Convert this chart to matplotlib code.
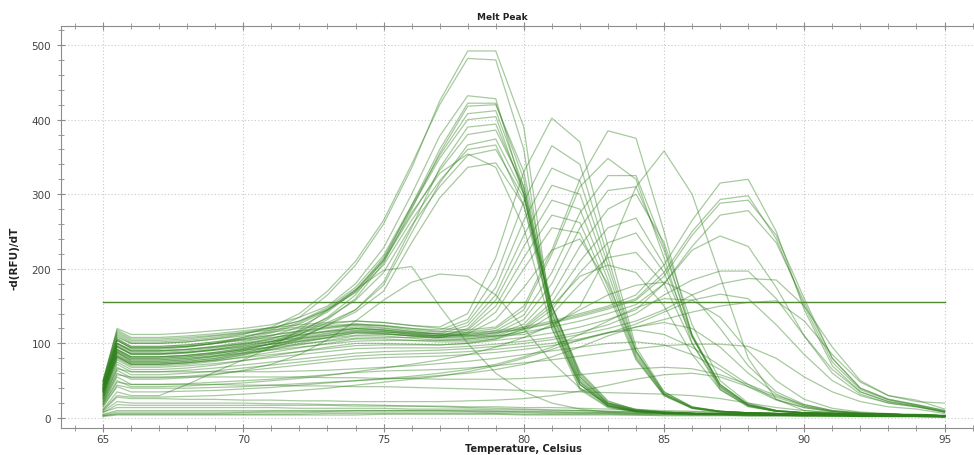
"""Melt peak curves (-d(RFU)/dT vs temperature), redrawn from a qPCR export."""

import matplotlib
matplotlib.use("Agg")
import matplotlib.pyplot as plt
from matplotlib.ticker import MultipleLocator

# Temperature readings (Celsius) shared by every well
temps = [65, 65.5, 66, 67, 68, 69, 70, 71, 72, 73, 74, 75, 76, 77, 78, 79,
         80, 81, 82, 83, 84, 85, 86, 87, 88, 89, 90, 91, 92, 93, 94, 95]

threshold = 155

# Wells peaking near 78.5 C
peak_78 = [
    [40, 100, 92, 92, 95, 100, 108, 118, 135, 165, 205, 260, 335, 425, 492, 492, 390, 130, 40, 15, 8, 6, 5, 5, 4, 4, 4, 3, 3, 3, 3, 2],
    [45, 108, 100, 100, 102, 106, 112, 122, 140, 170, 210, 265, 340, 420, 482, 480, 360, 120, 38, 14, 8, 6, 5, 5, 4, 4, 4, 3, 3, 3, 3, 2],
    [50, 120, 112, 112, 114, 117, 120, 125, 135, 150, 180, 228, 300, 378, 432, 428, 300, 130, 45, 16, 9, 7, 6, 5, 5, 4, 4, 4, 3, 3, 3, 2],
    [38, 92, 82, 82, 84, 88, 94, 102, 115, 135, 165, 212, 285, 360, 422, 422, 320, 140, 50, 18, 9, 7, 6, 5, 5, 4, 4, 4, 3, 3, 3, 2],
    [36, 88, 76, 76, 78, 83, 90, 100, 112, 132, 160, 208, 280, 355, 418, 420, 330, 150, 55, 20, 10, 7, 6, 5, 5, 4, 4, 4, 3, 3, 3, 2],
    [48, 112, 102, 102, 104, 108, 113, 120, 130, 148, 175, 218, 285, 352, 408, 412, 310, 135, 48, 17, 9, 7, 6, 5, 5, 4, 4, 4, 3, 3, 3, 2],
    [42, 100, 90, 90, 92, 96, 102, 110, 122, 142, 170, 215, 282, 348, 400, 404, 300, 125, 45, 16, 9, 7, 6, 5, 5, 4, 4, 3, 3, 3, 3, 2],
    [34, 82, 72, 72, 74, 78, 85, 94, 106, 125, 145, 182, 255, 335, 390, 394, 305, 140, 52, 19, 10, 7, 6, 5, 5, 4, 4, 4, 3, 3, 3, 2],
    [44, 104, 94, 94, 96, 100, 106, 114, 126, 144, 170, 210, 272, 332, 380, 386, 310, 150, 58, 20, 10, 7, 6, 5, 5, 4, 4, 4, 3, 3, 3, 2],
    [37, 90, 80, 80, 82, 86, 92, 100, 112, 128, 145, 178, 248, 315, 366, 374, 300, 145, 55, 19, 10, 7, 6, 5, 5, 4, 4, 4, 3, 3, 3, 2],
    [50, 116, 106, 106, 108, 111, 115, 121, 130, 145, 168, 205, 265, 318, 360, 366, 285, 130, 48, 17, 9, 7, 6, 5, 5, 4, 4, 4, 3, 3, 3, 2],
    [40, 96, 86, 86, 88, 92, 98, 106, 117, 134, 158, 195, 258, 310, 352, 360, 295, 150, 60, 22, 11, 8, 6, 5, 5, 4, 4, 4, 3, 3, 3, 2],
    [45, 106, 96, 96, 98, 102, 108, 116, 128, 146, 172, 212, 275, 328, 354, 336, 255, 120, 45, 16, 9, 7, 6, 5, 5, 4, 4, 4, 3, 3, 3, 2],
    [35, 84, 74, 74, 76, 80, 87, 96, 108, 124, 142, 170, 235, 295, 336, 342, 285, 150, 62, 23, 11, 8, 6, 5, 5, 4, 4, 4, 3, 3, 3, 2],
]

# Wells peaking near 81 C
peak_81 = [
    [50, 118, 108, 108, 110, 113, 117, 121, 125, 128, 130, 128, 124, 122, 140, 215, 330, 402, 370, 230, 95, 35, 15, 9, 7, 6, 5, 5, 4, 4, 3, 3],
    [46, 110, 100, 100, 102, 106, 110, 115, 120, 124, 126, 124, 120, 118, 132, 190, 290, 365, 340, 215, 90, 33, 14, 9, 7, 6, 5, 5, 4, 4, 3, 3],
    [42, 104, 94, 94, 96, 100, 105, 111, 117, 122, 125, 123, 118, 115, 128, 175, 265, 335, 318, 205, 88, 32, 14, 9, 7, 6, 5, 5, 4, 4, 3, 3],
    [40, 98, 88, 88, 90, 94, 100, 107, 114, 120, 124, 121, 116, 113, 124, 165, 245, 312, 300, 195, 85, 32, 14, 9, 7, 6, 5, 5, 4, 4, 3, 3],
    [38, 95, 85, 85, 87, 91, 96, 103, 110, 116, 120, 118, 113, 110, 120, 158, 230, 292, 280, 185, 82, 31, 13, 8, 7, 6, 5, 5, 4, 4, 3, 3],
    [35, 90, 80, 80, 82, 86, 92, 99, 106, 113, 118, 116, 112, 110, 118, 150, 215, 272, 262, 175, 80, 30, 13, 8, 7, 6, 5, 5, 4, 4, 3, 3],
    [32, 86, 76, 76, 78, 82, 88, 95, 103, 110, 116, 114, 110, 108, 115, 142, 200, 255, 248, 168, 78, 30, 13, 8, 7, 6, 5, 5, 4, 4, 3, 3],
    [30, 82, 72, 72, 74, 78, 84, 92, 100, 108, 114, 113, 110, 108, 113, 132, 175, 225, 240, 180, 90, 35, 15, 9, 7, 6, 5, 5, 4, 4, 3, 3],
]

# Wells peaking near 83.5 C (plus the single 85 C well)
peak_83 = [
    [48, 114, 104, 104, 106, 110, 114, 118, 122, 126, 130, 128, 124, 120, 118, 122, 150, 225, 320, 385, 375, 250, 110, 40, 16, 9, 7, 6, 5, 5, 4, 3],
    [44, 106, 96, 96, 98, 102, 106, 111, 116, 121, 126, 124, 120, 116, 115, 120, 145, 220, 310, 348, 320, 215, 100, 38, 15, 9, 7, 6, 5, 5, 4, 3],
    [40, 100, 90, 90, 92, 96, 100, 105, 111, 117, 122, 120, 116, 112, 112, 117, 138, 195, 275, 325, 325, 230, 110, 42, 17, 9, 7, 6, 5, 5, 4, 3],
    [38, 96, 86, 86, 88, 92, 97, 102, 108, 114, 120, 118, 114, 110, 110, 114, 132, 180, 255, 305, 310, 225, 112, 44, 18, 10, 7, 6, 5, 5, 4, 3],
    [36, 92, 82, 82, 84, 88, 93, 99, 105, 111, 117, 116, 112, 108, 108, 112, 126, 165, 230, 280, 300, 235, 125, 50, 20, 10, 7, 6, 5, 5, 4, 3],
    [33, 88, 78, 78, 80, 84, 90, 96, 102, 108, 114, 113, 110, 106, 106, 110, 122, 155, 210, 255, 268, 205, 110, 45, 18, 10, 7, 6, 5, 5, 4, 3],
    [30, 84, 74, 74, 76, 80, 86, 92, 98, 104, 110, 110, 107, 104, 104, 108, 118, 145, 195, 235, 248, 195, 108, 45, 18, 10, 7, 6, 5, 5, 4, 3],
    [28, 80, 70, 70, 72, 76, 82, 88, 94, 100, 106, 106, 104, 102, 102, 106, 115, 138, 180, 215, 222, 180, 100, 42, 17, 9, 7, 6, 5, 5, 4, 3],
    [26, 75, 65, 65, 67, 71, 77, 83, 89, 95, 100, 100, 99, 98, 100, 106, 120, 150, 190, 205, 195, 150, 85, 38, 16, 9, 7, 6, 5, 5, 4, 3],
    [42, 104, 94, 94, 96, 100, 104, 108, 112, 116, 120, 118, 115, 112, 110, 110, 112, 122, 150, 220, 310, 358, 300, 190, 80, 25, 10, 7, 6, 5, 4, 3],
]

# Wells peaking near 87.5 C
peak_87 = [
    [40, 100, 90, 90, 92, 95, 99, 103, 107, 111, 115, 115, 114, 113, 114, 117, 122, 130, 140, 150, 165, 205, 265, 315, 320, 250, 145, 70, 35, 22, 16, 8],
    [38, 96, 86, 86, 88, 91, 95, 99, 103, 107, 111, 112, 111, 110, 112, 115, 120, 128, 138, 148, 160, 195, 250, 293, 298, 240, 150, 75, 38, 24, 17, 9],
    [36, 92, 82, 82, 84, 87, 91, 95, 99, 103, 107, 108, 108, 108, 110, 114, 119, 127, 136, 146, 158, 190, 245, 288, 292, 245, 160, 80, 40, 25, 18, 10],
    [34, 88, 78, 78, 80, 83, 87, 91, 95, 99, 103, 104, 104, 104, 106, 110, 115, 122, 130, 140, 152, 180, 230, 272, 278, 235, 155, 80, 40, 25, 18, 10],
    [30, 82, 72, 72, 74, 77, 81, 85, 89, 93, 97, 98, 98, 98, 100, 104, 108, 114, 122, 132, 145, 180, 225, 244, 230, 175, 110, 60, 32, 20, 15, 8],
    [28, 78, 68, 68, 70, 73, 77, 81, 85, 89, 93, 94, 94, 94, 96, 99, 103, 108, 115, 125, 140, 165, 185, 197, 197, 160, 110, 65, 35, 22, 16, 8],
    [26, 72, 62, 62, 64, 67, 71, 75, 79, 83, 87, 89, 90, 91, 93, 96, 100, 105, 112, 120, 130, 145, 165, 180, 187, 185, 150, 95, 50, 30, 22, 20],
    [24, 68, 58, 58, 60, 63, 67, 71, 75, 79, 83, 85, 86, 87, 89, 92, 96, 100, 106, 114, 122, 132, 142, 150, 155, 157, 130, 85, 48, 30, 24, 12],
    [22, 64, 54, 54, 56, 59, 63, 67, 71, 75, 79, 81, 82, 83, 85, 88, 92, 97, 104, 114, 126, 142, 158, 166, 160, 125, 85, 50, 30, 20, 15, 8],
    [20, 55, 45, 45, 46, 48, 50, 52, 55, 58, 61, 63, 64, 65, 67, 70, 74, 78, 83, 88, 93, 97, 99, 99, 96, 80, 55, 35, 22, 15, 12, 6],
]

# Low / broad wells
broad = [
    [12, 35, 30, 30, 45, 62, 78, 95, 118, 145, 172, 198, 203, 150, 100, 60, 35, 20, 12, 8, 6, 5, 4, 4, 3, 3, 3, 3, 2, 2, 2, 2],
    [22, 60, 52, 52, 54, 58, 64, 72, 85, 105, 130, 158, 182, 193, 190, 165, 120, 75, 40, 20, 12, 8, 6, 5, 4, 4, 3, 3, 3, 2, 2, 2],
    [18, 50, 42, 42, 43, 45, 47, 50, 53, 57, 62, 67, 72, 78, 85, 95, 108, 125, 145, 165, 178, 182, 165, 120, 70, 35, 18, 10, 7, 5, 4, 3],
    [15, 42, 35, 35, 36, 37, 39, 41, 44, 47, 50, 53, 56, 60, 65, 72, 82, 95, 112, 130, 148, 160, 158, 135, 90, 50, 25, 13, 8, 6, 5, 4],
    [20, 58, 55, 55, 55, 55, 55, 55, 55, 54, 54, 53, 53, 52, 52, 52, 53, 55, 58, 62, 66, 68, 66, 58, 45, 30, 18, 10, 7, 5, 4, 3],
    [16, 44, 40, 40, 40, 41, 42, 44, 46, 48, 50, 52, 54, 57, 60, 65, 72, 82, 95, 110, 122, 128, 120, 95, 60, 32, 16, 9, 6, 5, 4, 3],
    [10, 28, 26, 26, 25, 25, 24, 24, 23, 23, 22, 22, 22, 22, 23, 24, 26, 30, 36, 44, 52, 58, 60, 55, 42, 28, 16, 9, 6, 5, 4, 3],
    [11, 30, 28, 28, 29, 30, 32, 34, 37, 40, 44, 48, 52, 56, 62, 70, 80, 92, 105, 115, 118, 112, 95, 70, 45, 25, 14, 8, 6, 5, 4, 3],
    [18, 48, 45, 45, 45, 45, 44, 44, 43, 43, 42, 42, 41, 40, 39, 38, 37, 36, 35, 34, 33, 32, 30, 26, 20, 14, 10, 7, 5, 4, 3, 2],
    [25, 66, 62, 62, 62, 62, 62, 62, 63, 64, 66, 68, 70, 73, 76, 80, 85, 90, 95, 100, 102, 98, 85, 65, 42, 24, 14, 9, 6, 5, 4, 3],
]

# Near-baseline wells
flat = [
    [8, 14, 14, 14, 14, 14, 14, 14, 13, 13, 13, 13, 12, 12, 12, 11, 11, 10, 10, 9, 9, 8, 8, 7, 7, 6, 6, 5, 5, 4, 4, 3],
    [5, 10, 10, 10, 10, 10, 10, 10, 10, 10, 10, 10, 10, 10, 10, 9, 9, 8, 8, 7, 7, 6, 6, 5, 5, 5, 4, 4, 4, 3, 3, 2],
    [4, 8, 8, 8, 8, 8, 8, 9, 9, 9, 10, 10, 10, 10, 9, 9, 8, 8, 7, 7, 6, 6, 5, 5, 5, 4, 4, 4, 3, 3, 3, 2],
    [3, 6, 6, 6, 6, 6, 7, 7, 7, 8, 8, 8, 8, 8, 8, 7, 7, 6, 6, 6, 5, 5, 5, 4, 4, 4, 3, 3, 3, 3, 2, 1],
    [3, 5, 5, 5, 5, 5, 5, 5, 5, 6, 6, 6, 6, 6, 6, 6, 5, 5, 5, 5, 4, 4, 4, 4, 3, 3, 3, 3, 2, 2, 2, 1],
    [2, 4, 4, 4, 4, 4, 4, 4, 4, 4, 4, 5, 5, 5, 5, 5, 4, 4, 4, 4, 4, 3, 3, 3, 3, 3, 2, 2, 2, 2, 2, 1],
    [9, 22, 20, 20, 20, 20, 20, 19, 19, 18, 18, 17, 16, 15, 14, 13, 12, 11, 10, 9, 8, 8, 7, 6, 6, 5, 5, 4, 4, 3, 3, 2],
    [7, 18, 17, 17, 17, 17, 17, 17, 17, 17, 16, 16, 16, 16, 15, 15, 14, 14, 13, 12, 11, 10, 9, 8, 7, 6, 5, 5, 4, 4, 3, 2],
]

wells = peak_78 + peak_81 + peak_83 + peak_87 + broad + flat
for w in wells:
    assert len(w) == len(temps)

fig = plt.figure(figsize=(9.74, 4.56), dpi=100)
ax = fig.add_axes([61 / 974, 1 - 429 / 456, 1 - 61 / 974, 402 / 456])

for w in wells:
    ax.plot(temps, w, color="#2f801c", alpha=0.42, linewidth=0.9)

ax.plot([temps[0], temps[-1]], [threshold, threshold], color="#4f8a30", linewidth=1.0)

ax.set_xlim(63.5, 96.05)
ax.set_ylim(-13.4, 525.5)

ax.xaxis.set_major_locator(MultipleLocator(5))
ax.xaxis.set_minor_locator(MultipleLocator(1))
ax.yaxis.set_major_locator(MultipleLocator(100))
ax.yaxis.set_minor_locator(MultipleLocator(20))
ax.grid(True, which="major", linestyle=(0, (1, 2)), color="#c8c8c8", linewidth=0.8)

for side in ["left", "bottom", "top"]:
    ax.spines[side].set_color("#8c8c8c")
ax.spines["right"].set_visible(False)
ax.tick_params(which="both", direction="inout", colors="#8c8c8c", labelcolor="#444444",
               labelsize=7.5, top=True)
ax.tick_params(which="major", length=6)
ax.tick_params(which="minor", length=4)
ax.tick_params(axis="y", pad=4)
ax.tick_params(axis="x", pad=1.5)

fig.text(502 / 974, 1 - 18 / 456, "Melt Peak", ha="center", va="center",
         fontsize=6.5, fontweight="bold", color="#222222")
fig.text(523 / 974, 1 - 449 / 456, "Temperature, Celsius", ha="center", va="center",
         fontsize=7, fontweight="bold", color="#222222")
fig.text(15 / 974, 1 - 258 / 456, "-d(RFU)/dT", ha="center", va="center",
         rotation=90, fontsize=7.5, fontweight="bold", color="#222222")

fig.savefig("out.png", dpi=100, facecolor="white")
